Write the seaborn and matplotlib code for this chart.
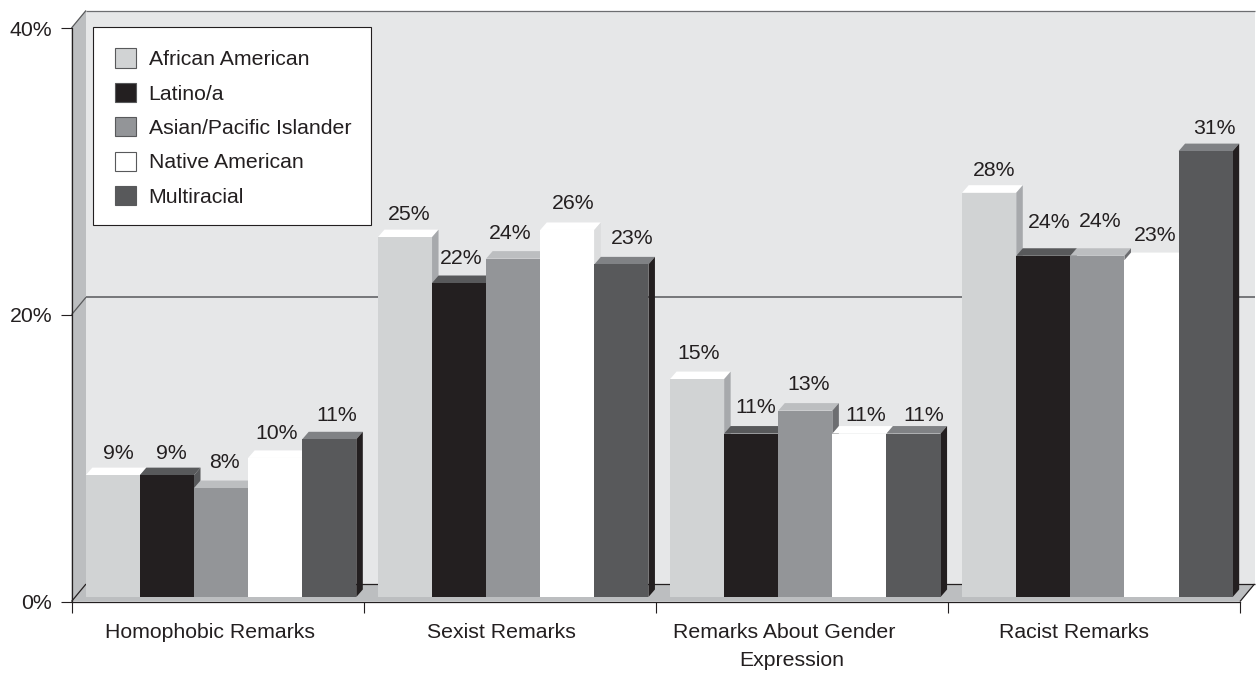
import matplotlib
matplotlib.use("Agg")
import matplotlib.pyplot as plt
import pandas as pd
import seaborn as sns
from matplotlib.patches import Patch, Polygon
from matplotlib.transforms import Affine2D, IdentityTransform

categories = ["Homophobic Remarks", "Sexist Remarks",
              "Remarks About Gender\nExpression", "Racist Remarks"]
groups = ["African American", "Latino/a", "Asian/Pacific Islander",
          "Native American", "Multiracial"]
african_american = [8.5, 25.1, 15.2, 28.2]
latino = [8.5, 21.9, 11.4, 23.8]
asian_pi = [7.6, 23.6, 13.0, 23.8]
native_american = [9.7, 25.6, 11.4, 23.5]
multiracial = [11.0, 23.2, 11.4, 31.1]
value_labels = [
    ["9%", "25%", "15%", "28%"],
    ["9%", "22%", "11%", "24%"],
    ["8%", "24%", "13%", "24%"],
    ["10%", "26%", "11%", "23%"],
    ["11%", "23%", "11%", "31%"],
]

# Styling
front = ["#d1d3d4", "#231f20", "#939598", "#ffffff", "#58595b"]
top_c = ["#ffffff", "#58595b", "#bcbec0", "#ffffff", "#808285"]
side_c = ["#a7a9ac", "#58595b", "#6d6e71", "#dcddde", "#231f20"]
INK = "#231f20"
LINE = "#58595b"
WALL = "#e6e7e8"
SHADE = "#bcbec0"
W, H = 1259, 673
FS = 15.3

plt.rcParams["font.family"] = ["Liberation Sans", "DejaVu Sans"]
fig = plt.figure(figsize=(W / 100, H / 100), dpi=100)
ax = fig.add_axes([71.5 / W, 1 - 601.5 / H, (1240 - 71.5) / W, (601.5 - 28) / H])
ax.patch.set_visible(False)

df = pd.DataFrame({
    "category": categories * len(groups),
    "group": [g for g in groups for _ in categories],
    "value": african_american + latino + asian_pi + native_american + multiracial,
})
sns.barplot(data=df, x="category", y="value", hue="group", hue_order=groups,
            order=categories, palette=front, saturation=1, width=0.926, gap=0,
            dodge=True, legend=False, ax=ax, linewidth=0, zorder=3)

ax.set_xlim(-0.5, 3.5)
ax.set_ylim(0, 40)
ax.set_xlabel("")
ax.set_ylabel("")
ax.set_yticks([0, 20, 40], ["0%", "20%", "40%"])
ax.set_xticks([-0.5, 0.5, 1.5, 2.5, 3.5], minor=False)
ax.set_xticklabels([])
ax.tick_params(axis="both", length=8, width=0.8, color=INK, labelcolor=INK,
               labelsize=FS, pad=6)

# Category captions sit off-centre in the source, line by line
caption_dx = [[-7.5], [-8], [-18, -10], [-19.5]]
for xi, lab in enumerate(categories):
    for k, text_line in enumerate(lab.split("\n")):
        ax.annotate(text_line, xy=(xi, 0), xycoords=ax.get_xaxis_transform(),
                    xytext=(caption_dx[xi][k], -31 - 28.5 * k), textcoords="offset pixels",
                    ha="center", va="center", fontsize=FS, color=INK,
                    annotation_clip=False)
sns.despine(ax=ax)
for s in ("left", "bottom"):
    ax.spines[s].set_color(INK)
    ax.spines[s].set_linewidth(0.9)
    ax.spines[s].set_zorder(6)

# 3-D chart box, derived from the axes and a fixed depth
DX, DY = 14.5, 17.5
BX, BY = 3.5, 4.5       # bars stand midway in the depth
TX, TY = 6.5, 7.5       # depth of each bar
I = IdentityTransform()
fig.canvas.draw()
to_px = ax.transData.transform
(x0, y0), (x1, y1) = to_px((-0.5, 0)), to_px((3.5, 40))


def poly(pts, color, z, **kw):
    ax.add_patch(Polygon(pts, closed=True, transform=I, facecolor=color,
                         edgecolor=kw.pop("edgecolor", "none"),
                         linewidth=kw.pop("linewidth", 0), zorder=z, clip_on=False, **kw))


def line(xs, ys, z=1.5, color=LINE, lw=0.9):
    ax.plot(xs, ys, transform=I, color=color, lw=lw, zorder=z, clip_on=False,
            solid_capstyle="butt")


poly([(x0 + DX, y0 + DY), (x1 + DX, y0 + DY), (x1 + DX, y1 + DY), (x0 + DX, y1 + DY)], WALL, 1)
poly([(x0, y0), (x0 + DX, y0 + DY), (x0 + DX, y1 + DY), (x0, y1)], SHADE, 1.2)
poly([(x0, y0), (x1, y0), (x1 + DX, y0 + DY), (x0 + DX, y0 + DY)], SHADE, 1.2)
for v in (0, 20, 40):
    yv = to_px((0, v))[1]
    c = INK if v == 0 else "#6d6e71"
    line([x0, x0 + DX], [yv, yv + DY], color=INK if v == 0 else LINE)
    line([x0 + DX, x1 + DX], [yv + DY, yv + DY], color=c, lw=1.3 if v == 20 else 0.9)
line([x1, x1 + DX], [y0, y0 + DY], color=INK)

# Extruded bars: faces built from the bars seaborn drew
label_dx = [
    [-1, -2.5, -4.5, -2],
    [-2, -4, -2, -1],
    [-3, -10, -3, -4],
    [-5.5, -1, 0, -3],
    [0.5, 4, 3.5, 2],
]
label_dy = [
    [-3, -2, 1, -3],
    [-3, 0, 1.5, 8],
    [1, 0, 1.5, 9],
    [-1, 1, -7, 0],
    [-1, 1, -7, -2],
]
shift = Affine2D().translate(BX, BY)
for i, cont in enumerate(ax.containers):
    for j, bar in enumerate(cont.patches):
        z = 3 + 0.1 * i
        bb = bar.get_window_extent()
        xa, xb, ya, yb = bb.x0 + BX, bb.x1 + BX, bb.y0 + BY, bb.y1 + BY
        bar.set_transform(ax.transData + shift)
        bar.set_clip_on(False)
        bar.set_zorder(z + 0.02)
        poly([(xa, yb), (xb, yb), (xb + TX, yb + TY), (xa + TX, yb + TY)], top_c[i], z)
        poly([(xb, ya), (xb + TX, ya + TY), (xb + TX, yb + TY), (xb, yb)], side_c[i], z)
        ax.text((xa + xb) / 2 + TX + label_dx[i][j], yb + 25 + label_dy[i][j],
                value_labels[i][j], transform=I, ha="center", va="center",
                fontsize=FS, color=INK, zorder=8, clip_on=False)

# Legend box, with the entries placed inside it
box_l, box_r, box_t, box_b = 92.5, 371, H - 26.5, H - 225
poly([(box_l, box_b), (box_r, box_b), (box_r, box_t), (box_l, box_t)], "white", 8.9,
     edgecolor=INK, linewidth=0.8)
handles = [Patch(facecolor=c, edgecolor=LINE, linewidth=0.8) for c in front]
leg = ax.legend(handles, groups, loc="upper left",
                bbox_to_anchor=(115 - 0.5, H - 48.5), bbox_transform=I,
                frameon=False, fontsize=FS, labelcolor=INK, borderaxespad=0,
                borderpad=0, labelspacing=0.64, handlelength=1.0, handleheight=1.0,
                handletextpad=0.61)
leg.set_zorder(9)

fig.savefig("out.png", dpi=100, facecolor="white")
